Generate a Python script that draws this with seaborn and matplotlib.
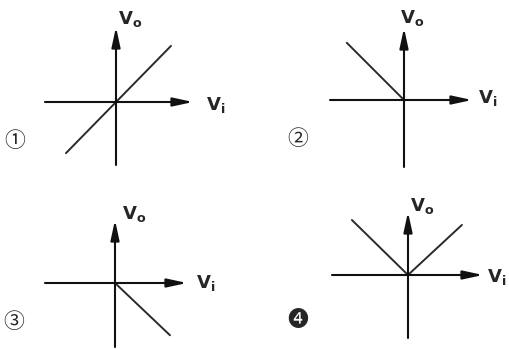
import matplotlib
matplotlib.use("Agg")
import matplotlib.pyplot as plt
import seaborn as sns

sns.set_style("white")
plt.rcParams['font.family'] = ['DejaVu Sans', 'Noto Sans CJK JP']

# transfer characteristics vo(vi) for the four choices
vi_1 = [-0.91, 1.0]
vo_1 = [-0.93, 1.02]
vi_2 = [-1.04, 0.0]
vo_2 = [1.04, 0.0]
vi_3 = [0.0, 1.0]
vo_3 = [0.0, -0.95]
vi_4 = [-1.02, 0.0, 0.98]
vo_4 = [1.0, 0.0, 0.91]

marks = ['①', '②', '③', '❹']

W, H = 510, 349
U = 55.0  # pixels per data unit

# panel layout in pixels: origin, x extent, y extent, label spots
panels = [
    dict(o=(116, 102), x=(45, 193), y=(27, 165), vo=(130, 19), vi=(216, 105), mk=(15, 141)),
    dict(o=(404, 100), x=(330, 472), y=(28, 167), vo=(412, 18), vi=(488, 98), mk=(298, 139)),
    dict(o=(115, 283), x=(45, 187), y=(220, 347), vo=(134, 214), vi=(206, 283), mk=(14, 322)),
    dict(o=(408, 275), x=(332, 483), y=(212, 338), vo=(422, 206), vi=(497, 277), mk=(298, 320)),
]
series = [(vi_1, vo_1), (vi_2, vo_2), (vi_3, vo_3), (vi_4, vo_4)]

fig = plt.figure(figsize=(W / 100, H / 100), dpi=100)

def fpx(x, y):
    return x / W, 1 - y / H

for p, (vi, vo), mk in zip(panels, series, marks):
    ox, oy = p['o']
    xl, xr = p['x']
    yt, yb = p['y']
    ax = fig.add_axes([xl / W, 1 - yb / H, (xr - xl) / W, (yb - yt) / H])
    ax.set_xlim((xl - ox) / U, (xr - ox) / U)
    ax.set_ylim((oy - yb) / U, (oy - yt) / U)
    ax.axis('off')

    arrow = dict(arrowstyle="-|>,head_length=1.2,head_width=0.26", lw=1.5,
                 color="#111111", mutation_scale=10, shrinkA=0, shrinkB=0)
    ax.annotate("", xy=(ax.get_xlim()[1], 0), xytext=(ax.get_xlim()[0], 0),
                arrowprops=arrow, annotation_clip=False)
    ax.annotate("", xy=(0, ax.get_ylim()[1]), xytext=(0, ax.get_ylim()[0]),
                arrowprops=arrow, annotation_clip=False)

    sns.lineplot(x=vi, y=vo, ax=ax, color="#2a2a2a", lw=1.4, sort=False)
    for ln in ax.lines:
        ln.set_clip_on(False)

    fig.text(*fpx(*p['vo']), r"$\mathbf{V_o}$", fontsize=13, ha="center", va="center")
    fig.text(*fpx(*p['vi']), r"$\mathbf{V_i}$", fontsize=13, ha="center", va="center")
    fig.text(*fpx(*p['mk']), mk, fontsize=15, ha="center", va="center",
             family=['Noto Sans CJK JP', 'DejaVu Sans'])

fig.savefig("out.png", dpi=100)
